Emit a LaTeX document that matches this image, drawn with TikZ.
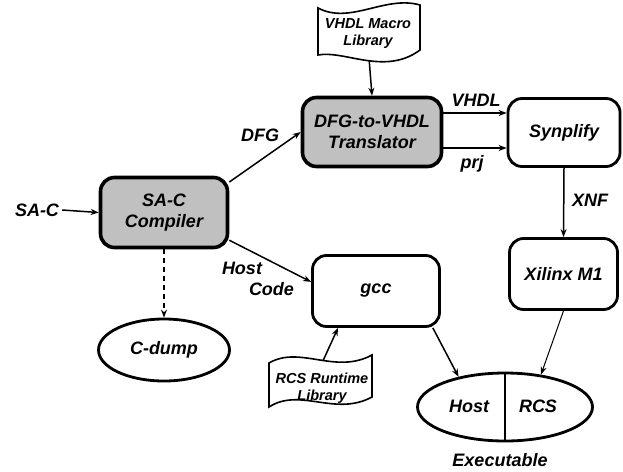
\documentclass[tikz,border=0pt]{standalone}
\usepackage{fontspec}
\setmainfont{Liberation Sans}
\usetikzlibrary{arrows.meta,shapes.geometric,calc}
\definecolor{boxgray}{RGB}{192,192,192}
\begin{document}
\begin{tikzpicture}[x=1pt,y=-1pt,
  every node/.style={font=\fontsize{18}{21.5}\selectfont\bfseries\itshape, align=center, inner sep=0pt},
  graybox/.style={draw, line width=3.6pt, rounded corners=14pt, fill=boxgray},
  whitebox/.style={draw, line width=2.8pt, rounded corners=14pt, fill=white},
  oval/.style={draw, ellipse, line width=2.8pt},
  flagtext/.style={font=\fontsize{14.5}{17}\selectfont\bfseries\itshape},
  flag/.style={draw, line width=1.6pt, fill=white},
  arr/.style={-{Stealth[length=8pt,width=6pt]}, line width=1.5pt},
  thinarr/.style={-{Stealth[length=8pt,width=6pt]}, line width=1pt}
]
\useasboundingbox (0,0) rectangle (623,471);

% main boxes
\node[graybox, minimum width=127pt, minimum height=70pt] (comp) at (164,212.5) {SA-C\\Compiler};
\node[graybox, minimum width=139pt, minimum height=69pt] (trans) at (372,132) {DFG-to-VHDL\\Translator};
\node[whitebox, minimum width=112pt, minimum height=68pt] (syn) at (564,132.5) {Synplify};
\node[whitebox, minimum width=108pt, minimum height=71pt] (xil) at (563.5,274) {Xilinx M1};
\node[whitebox, minimum width=127pt, minimum height=71pt] (gcc) at (376,291) {gcc};
\node[oval, minimum width=131pt, minimum height=62pt] (cdump) at (164,350) {C-dump};
\node[oval, minimum width=175pt, minimum height=68pt] (exec) at (505,407) {};
\draw[line width=1.4pt] (exec.north) -- (exec.south);
\node (host) at (469,406) {Host};
\node (rcs) at (538,406) {RCS};
\node (execl) at (500,460) {Executable};

% labels
\node (sac) at (37,210) {SA-C};
\node (dfgl) at (260,135) {DFG};
\node[align=left] (hostcode) at (258,279) {Host\\\hspace*{27pt}Code};
\node (vhdll) at (476,100.5) {VHDL};
\node (prjl) at (472,164) {prj};
\node (xnfl) at (590,200) {XNF};

% flag texts and edge points
\node[flagtext] (macro) at (368,34) {VHDL Macro\\Library};
\node[flagtext] (rtlib) at (322,388) {RCS Runtime\\Library};
\coordinate (macroB) at (369,58);
\coordinate (rtlibT) at (322,363);

% connectors
\draw[arr] (sac.east) ++(3pt,0) -- (comp.west);
\draw[arr] (comp.25) -- (trans.west);
\draw[arr] (comp.-23) -- (gcc.172);
\draw[arr, dash pattern=on 5pt off 4pt] (comp.south) -- (cdump.north);
\draw[arr] ([yshift=19pt]trans.east) -- ([yshift=19.5pt]syn.west);
\draw[arr] ([yshift=-16pt]trans.east) -- ([yshift=-15.5pt]syn.west);
\draw[arr] (syn.south) -- (xil.north);
\draw[arr] (gcc.-33.7) -- (exec.147);
\draw[thinarr] (xil.south) -- (exec.42);
\draw[arr] (macroB) -- (trans.north);
\draw[arr] (rtlibT) -- ([xshift=-38pt]gcc.south);

% flags
\draw[flag] (318,8) .. controls (350,25) and (385,-5) .. (420,5) -- (420,50)
  .. controls (385,76) and (345,50) .. (318,55) -- cycle;
\draw[flag] (269,363) .. controls (300,345) and (335,375) .. (372,355) -- (372,397)
  .. controls (335,417) and (300,387) .. (269,407) -- cycle;
\node[flagtext] at (macro) {VHDL Macro\\Library};
\node[flagtext] at (rtlib) {RCS Runtime\\Library};
\end{tikzpicture}
\end{document}
